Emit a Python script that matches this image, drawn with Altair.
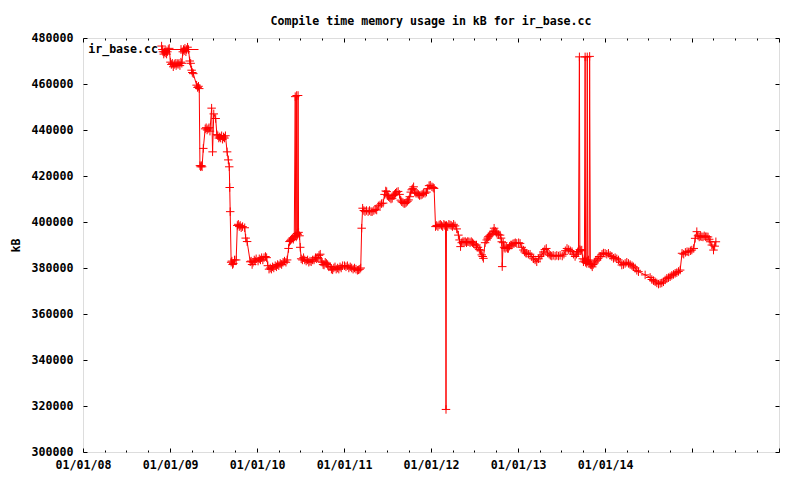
import altair as alt
import pandas as pd

dates = [
    # 2008
    "2008-11-26", "2008-11-29", "2008-12-02", "2008-12-05", "2008-12-08",
    "2008-12-11", "2008-12-14", "2008-12-17", "2008-12-20", "2008-12-24",
    "2008-12-28",
    # 2009
    "2009-01-02", "2009-01-06", "2009-01-10", "2009-01-14", "2009-01-18",
    "2009-01-22", "2009-01-26", "2009-01-30", "2009-02-03", "2009-02-07",
    "2009-02-11", "2009-02-15", "2009-02-19", "2009-02-23", "2009-02-26",
    "2009-03-01", "2009-03-04", "2009-03-08", "2009-03-11", "2009-03-15",
    "2009-03-19", "2009-03-24", "2009-03-28", "2009-04-01", "2009-04-04",
    "2009-04-08", "2009-04-22", "2009-04-26", "2009-04-30", "2009-05-03",
    "2009-05-06", "2009-05-09", "2009-05-12", "2009-05-15", "2009-05-20",
    "2009-05-28", "2009-06-01", "2009-06-05", "2009-06-09", "2009-06-13",
    "2009-06-17", "2009-06-24", "2009-06-28", "2009-07-03", "2009-07-11",
    "2009-07-16", "2009-07-20", "2009-07-24", "2009-07-28", "2009-08-01",
    "2009-08-05", "2009-08-09", "2009-08-13", "2009-08-17", "2009-08-21",
    "2009-08-28", "2009-09-02", "2009-09-06", "2009-09-08", "2009-09-10",
    "2009-09-14", "2009-09-17", "2009-09-20", "2009-09-23", "2009-09-28",
    "2009-10-05", "2009-10-10", "2009-10-14", "2009-10-18", "2009-10-22",
    "2009-10-26", "2009-11-01", "2009-11-10", "2009-11-14", "2009-11-20",
    "2009-12-03", "2009-12-07", "2009-12-11", "2009-12-15", "2009-12-20",
    "2009-12-24", "2009-12-28",
    # 2010
    "2010-01-05", "2010-01-10", "2010-01-15", "2010-01-20", "2010-01-25",
    "2010-01-30", "2010-02-05", "2010-02-10", "2010-02-15", "2010-02-20",
    "2010-02-25", "2010-03-02", "2010-03-07", "2010-03-12", "2010-03-18",
    "2010-03-23", "2010-03-28", "2010-04-02", "2010-04-08", "2010-04-14",
    "2010-04-20", "2010-04-26", "2010-05-02", "2010-05-07", "2010-05-13",
    "2010-05-17", "2010-05-21", "2010-05-25", "2010-05-29", "2010-06-02",
    "2010-06-06", "2010-06-10", "2010-06-12", "2010-06-14", "2010-06-16",
    "2010-06-18", "2010-06-20", "2010-06-22", "2010-06-24", "2010-06-28",
    "2010-07-01", "2010-07-05", "2010-07-10", "2010-07-15", "2010-07-20",
    "2010-07-26", "2010-08-01", "2010-08-06", "2010-08-11", "2010-08-16",
    "2010-08-22", "2010-08-28", "2010-09-03", "2010-09-08", "2010-09-13",
    "2010-09-18", "2010-09-23", "2010-09-27", "2010-10-01", "2010-10-05",
    "2010-10-09", "2010-10-14", "2010-10-19", "2010-10-24", "2010-10-29",
    "2010-11-04", "2010-11-09", "2010-11-14", "2010-11-19", "2010-11-24",
    "2010-11-29", "2010-12-05", "2010-12-10", "2010-12-15", "2010-12-20",
    "2010-12-26",
    # 2011
    "2011-01-03", "2011-01-09", "2011-01-15", "2011-01-21", "2011-01-27",
    "2011-02-02", "2011-02-08", "2011-02-14", "2011-02-20", "2011-02-26",
    "2011-03-03", "2011-03-08", "2011-03-12", "2011-03-16", "2011-03-20",
    "2011-03-25", "2011-03-30", "2011-04-05", "2011-04-12", "2011-04-18",
    "2011-04-24", "2011-04-29", "2011-05-06", "2011-05-12", "2011-05-18",
    "2011-05-25", "2011-06-01", "2011-06-07", "2011-06-14", "2011-06-20",
    "2011-06-25", "2011-06-29", "2011-07-03", "2011-07-07", "2011-07-12",
    "2011-07-17", "2011-07-22", "2011-07-27", "2011-08-01", "2011-08-05",
    "2011-08-10", "2011-08-16", "2011-08-22", "2011-08-27", "2011-08-31",
    "2011-09-05", "2011-09-10", "2011-09-14", "2011-09-19", "2011-09-24",
    "2011-09-29", "2011-10-04", "2011-10-08", "2011-10-12", "2011-10-16",
    "2011-10-20", "2011-10-25", "2011-10-30", "2011-11-04", "2011-11-09",
    "2011-11-14", "2011-11-20", "2011-11-25", "2011-11-30", "2011-12-07",
    "2011-12-13", "2011-12-18", "2011-12-24", "2011-12-29",
    # 2012
    "2012-01-05", "2012-01-10", "2012-01-14", "2012-01-20", "2012-01-25",
    "2012-01-30", "2012-02-04", "2012-02-09", "2012-02-14", "2012-02-19",
    "2012-02-24", "2012-02-28", "2012-03-02", "2012-03-04", "2012-03-06",
    "2012-03-11", "2012-03-16", "2012-03-21", "2012-03-26", "2012-03-31",
    "2012-04-05", "2012-04-11", "2012-04-18", "2012-04-25", "2012-04-30",
    "2012-05-04", "2012-05-09", "2012-05-14", "2012-05-19", "2012-05-24",
    "2012-05-29", "2012-06-03", "2012-06-08", "2012-06-13", "2012-06-18",
    "2012-06-23", "2012-06-28", "2012-07-04", "2012-07-10", "2012-07-16",
    "2012-07-22", "2012-07-27", "2012-08-01", "2012-08-05", "2012-08-08",
    "2012-08-15", "2012-08-22", "2012-08-26", "2012-08-29", "2012-09-03",
    "2012-09-08", "2012-09-13", "2012-09-18", "2012-09-22", "2012-09-27",
    "2012-10-01", "2012-10-04", "2012-10-10", "2012-10-17", "2012-10-21",
    "2012-10-24", "2012-10-26", "2012-10-30", "2012-11-03", "2012-11-07",
    "2012-11-12", "2012-11-17", "2012-11-21", "2012-11-26", "2012-12-01",
    "2012-12-05", "2012-12-10", "2012-12-15", "2012-12-20", "2012-12-26",
    # 2013
    "2013-01-03", "2013-01-09", "2013-01-16", "2013-01-23", "2013-01-28",
    "2013-02-02", "2013-02-06", "2013-02-13", "2013-02-20", "2013-02-27",
    "2013-03-06", "2013-03-13", "2013-03-20", "2013-03-27", "2013-04-03",
    "2013-04-10", "2013-04-17", "2013-04-23", "2013-04-29", "2013-05-05",
    "2013-05-11", "2013-05-16", "2013-05-22", "2013-05-28", "2013-06-05",
    "2013-06-12", "2013-06-19", "2013-06-26", "2013-07-05", "2013-07-12",
    "2013-07-18", "2013-07-25", "2013-08-01", "2013-08-08", "2013-08-15",
    "2013-08-21", "2013-08-28", "2013-09-03", "2013-09-08", "2013-09-11",
    "2013-09-15", "2013-09-17", "2013-09-21", "2013-09-25", "2013-09-29",
    "2013-10-02", "2013-10-06", "2013-10-09", "2013-10-11", "2013-10-13",
    "2013-10-16", "2013-10-18", "2013-10-20", "2013-10-23", "2013-10-26",
    "2013-10-28", "2013-10-31", "2013-11-04", "2013-11-08", "2013-11-12",
    "2013-11-18", "2013-11-23", "2013-11-28", "2013-12-02", "2013-12-07",
    "2013-12-13", "2013-12-19", "2013-12-25",
    # 2014
    "2014-01-01", "2014-01-08", "2014-01-15", "2014-01-22", "2014-01-29",
    "2014-02-05", "2014-02-12", "2014-02-19", "2014-02-26", "2014-03-05",
    "2014-03-12", "2014-03-19", "2014-03-26", "2014-04-02", "2014-04-09",
    "2014-04-16", "2014-04-24", "2014-04-30", "2014-05-07", "2014-05-14",
    "2014-05-21", "2014-06-18", "2014-07-09", "2014-07-16", "2014-07-23",
    "2014-07-30", "2014-08-06", "2014-08-13", "2014-08-20", "2014-08-27",
    "2014-09-03", "2014-09-10", "2014-09-17", "2014-09-24", "2014-10-01",
    "2014-10-08", "2014-10-15", "2014-10-22", "2014-10-29", "2014-11-05",
    "2014-11-12", "2014-11-20", "2014-11-27", "2014-12-04", "2014-12-11",
    "2014-12-18", "2014-12-25", "2014-12-31",
    # 2015
    "2015-01-08", "2015-01-14", "2015-01-21", "2015-01-26", "2015-01-31",
    "2015-02-05", "2015-02-11", "2015-02-16", "2015-02-21", "2015-02-26",
    "2015-03-04", "2015-03-09", "2015-03-14", "2015-03-18", "2015-03-25",
    "2015-04-01", "2015-04-06", "2015-04-11",
]

kb = [
    # 2008
    476500, 475000, 474000, 473000, 474000,
    473500, 474500, 473000, 474000, 475000,
    475500,
    # 2009
    469500, 468500, 469000, 467500, 468500,
    469000, 468000, 469000, 468500, 469000,
    468000, 469500, 469000, 474000, 475000,
    474500, 475500, 474000, 475000, 476000,
    475000, 470000, 469000, 466000, 465000,
    464500, 459500, 458500, 459000, 458000,
    424500, 424000, 424500, 424000, 432000,
    440500, 441000, 440000, 440500, 441000,
    439500, 449500, 430500, 447000, 445000,
    438000, 437500, 436500, 437000, 436500,
    437500, 436000, 437000, 436500, 437500,
    430500, 427000, 424000, 415000, 404500,
    382500, 383000, 381500, 382000, 383500,
    383500, 398500, 399000, 398000, 398500,
    397500, 398000, 397500, 393000, 391500,
    382700, 383000, 381500, 382500, 383500,
    383000, 384000,
    # 2010
    383000, 384000, 383500, 384500, 383500,
    384500, 385000, 384500, 381000, 379500,
    380000, 379500, 380500, 380000, 381000,
    380500, 381500, 381000, 382000, 381500,
    382500, 383000, 382500, 383500, 388500,
    391500, 392000, 392500, 393000, 392500,
    393500, 454500, 394000, 393500, 455000,
    395000, 394500, 455000, 395500, 394000,
    389000, 384000, 383500, 384500, 383500,
    383000, 383500, 382500, 383000, 382700,
    383500, 383500, 384500, 384000, 384500,
    385500, 386000, 383000, 382500, 381500,
    381300, 382500, 382000, 381500, 380500,
    380600, 379500, 379200, 380000, 380500,
    379500, 380000, 379500, 380500, 380000,
    381000,
    # 2011
    381000, 380500, 381000, 380000, 380500,
    380000, 379500, 380000, 379500, 379000,
    379200, 379500, 380000, 397300, 406000,
    405000, 404500, 405000, 404500, 405000,
    404500, 404500, 405000, 405500, 405200,
    407000, 407400, 408000, 408200, 412000,
    413500, 413200, 411500, 411000, 410500,
    410000, 410300, 411500, 412000, 412500,
    413000, 413300, 412000, 409500, 408800,
    408500, 408000, 408100, 408500, 409000,
    409600, 411000, 413000, 414000, 414500,
    415300, 413000, 412500, 412500, 412000,
    411500, 411700, 412000, 412500, 412500,
    413000, 414500, 415800, 416000,
    # 2012
    415300, 415000, 414600, 398000, 398500,
    398000, 398700, 399000, 398500, 398000,
    399000, 398500, 398300, 318500, 398500,
    398000, 399000, 398700, 398500, 398000,
    399000, 398300, 397000, 394300, 392200,
    389300, 391000, 391500, 391400, 391500,
    391000, 391500, 391400, 391000, 391500,
    391000, 390500, 390000, 390000, 389000,
    388000, 387500, 385700, 385000, 384200,
    391000, 392200, 393000, 393600, 394000,
    394500, 395100, 396000, 397300, 396000,
    395500, 395100, 394500, 394300, 393000,
    391400, 380600, 391000, 389000, 388500,
    389000, 388500, 388500, 389500, 390000,
    390000, 390500, 390700, 391000, 390700,
    # 2013
    391000, 390700, 389000, 387800, 387000,
    386500, 386400, 386000, 386000, 385000,
    384000, 383500, 382700, 384000, 385000,
    385700, 387000, 388000, 388500, 386500,
    386000, 385500, 385200, 385500, 385200,
    385500, 385200, 385500, 385200, 386000,
    387500, 388500, 388000, 387500, 387100,
    386000, 385000, 386000, 387000, 387100,
    471800, 388000, 387500, 387800, 384000,
    382700, 383500, 471800, 382500, 383000,
    382000, 471800, 383000, 383500, 382000,
    472000, 381500, 381300, 380500, 381500,
    382200, 383000, 383500, 384200, 385000,
    385000, 386000, 386500,
    # 2014
    386400, 386000, 386400, 385500, 385000,
    384200, 384500, 384000, 383500, 382500,
    381300, 381500, 382000, 382500, 382000,
    381500, 381000, 380500, 380000, 379000,
    378400, 377000, 375900, 375000, 374500,
    374000, 373500, 373000, 373300, 373500,
    374000, 374800, 375500, 375800, 376200,
    376800, 377200, 377700, 378000, 378500,
    379100, 386400, 386000, 386800, 387100,
    387000, 387500, 387800,
    # 2015
    388500, 392900, 395800, 394000, 393500,
    393800, 393600, 393500, 394000, 393600,
    393600, 393500, 392500, 391400, 390000,
    387800, 389500, 391400,
]

series_name = "ir_base.cc"
title_text = "Compile time memory usage in kB for ir_base.cc"
year_ticks = list(range(2008, 2017))
y_ticks = list(range(300000, 480001, 20000))

df = pd.DataFrame({"date": dates, "kb": kb})
df["series"] = series_name

FONT = "DejaVu Sans Mono"
FS = 11.6
RED = "#ff0000"

major_vals = [alt.DateTime(year=y, month=1, date=1, utc=True) for y in year_ticks]
minor_vals = [alt.DateTime(year=y, month=m, date=1, utc=True)
              for y in year_ticks[:-1] for m in (4, 7, 10)]

xscale = alt.Scale(type="utc",
                   domain=[alt.DateTime(year=2008, month=1, date=1, utc=True),
                           alt.DateTime(year=2016, month=1, date=1, utc=True)])
yscale = alt.Scale(domain=[300000, 480000], nice=False, zero=False)

common_axis = dict(domain=False, grid=False, tickColor="black", tickWidth=1,
                   labelFont=FONT, labelFontSize=FS, labelFontWeight="bold",
                   labelColor="black")

x_bottom = alt.Axis(orient="bottom", values=major_vals, format="%m/%d/%y",
                    labelExpr="utcyear(datum.value) <= 2014 ? datum.label : ''",
                    tickSize=4, offset=-4, labelPadding=7, labelFlush=False,
                    labelOverlap=False, **common_axis)
x_top = alt.Axis(orient="top", values=major_vals, labels=False, tickSize=4,
                 offset=-4, **common_axis)
x_bottom_minor = alt.Axis(orient="bottom", values=minor_vals, labels=False,
                          tickSize=2, offset=-2, **common_axis)
x_top_minor = alt.Axis(orient="top", values=minor_vals, labels=False,
                       tickSize=2, offset=-2, **common_axis)

y_left = alt.Axis(orient="left", values=y_ticks, format="d", tickSize=4,
                  offset=-4, labelPadding=10, title="kB", titlePadding=10,
                  titleFont=FONT, titleFontSize=FS, titleFontWeight="bold",
                  titleColor="black", **common_axis)
y_right = alt.Axis(orient="right", values=y_ticks, labels=False, tickSize=4,
                   offset=-4, **common_axis)

plus_path = "M-1,0L1,0M0,-1L0,1"
key_path = "M-1,0L1,0M0,-0.25L0,0.25"

base = alt.Chart(df)

line = base.mark_line(strokeWidth=1, clip=True).encode(
    x=alt.X("date:T", scale=xscale, axis=x_bottom, title=None),
    y=alt.Y("kb:Q", scale=yscale, axis=y_left),
    color=alt.Color("series:N", scale=alt.Scale(range=[RED]),
                    legend=alt.Legend(orient="none", legendX=80, legendY=-6.5,
                                      title=None, labelFont=FONT,
                                      labelFontSize=FS, labelFontWeight="bold",
                                      labelColor="black", labelAlign="right",
                                      symbolType=key_path,
                                      symbolSize=1225, symbolStrokeWidth=1,
                                      symbolStrokeColor=RED,
                                      symbolFillColor="transparent",
                                      symbolOpacity=1,
                                      labelOffset={"expr": "-41"},
                                      padding=0)),
)

points = base.mark_point(shape=plus_path, size=72, filled=False,
                         strokeWidth=1, color=RED, opacity=1, clip=True).encode(
    x=alt.X("date:T", scale=xscale, axis=x_top, title=None),
    y=alt.Y("kb:Q", scale=yscale, axis=y_right, title=None),
)

minor_b = base.mark_point(opacity=0).encode(
    x=alt.X("date:T", scale=xscale, axis=x_bottom_minor, title=None),
    y=alt.Y("kb:Q", scale=yscale, axis=None),
)
minor_t = base.mark_point(opacity=0).encode(
    x=alt.X("date:T", scale=xscale, axis=x_top_minor, title=None),
    y=alt.Y("kb:Q", scale=yscale, axis=None),
)

chart = alt.layer(line, points, minor_b, minor_t).resolve_axis(
    x="independent", y="independent"
).properties(
    width=696, height=414,
    autosize=alt.AutoSizeParams(type="none"),
    padding={"left": 75, "top": 30, "right": 13, "bottom": 20},
    title=alt.TitleParams(title_text, font=FONT, fontSize=FS,
                          fontWeight="bold", color="black", anchor="middle",
                          frame="group", offset=4),
).configure_view(stroke="black", strokeWidth=1).configure(background="white")

chart.save("out.html", embed_options={"renderer": "svg", "actions": False})
